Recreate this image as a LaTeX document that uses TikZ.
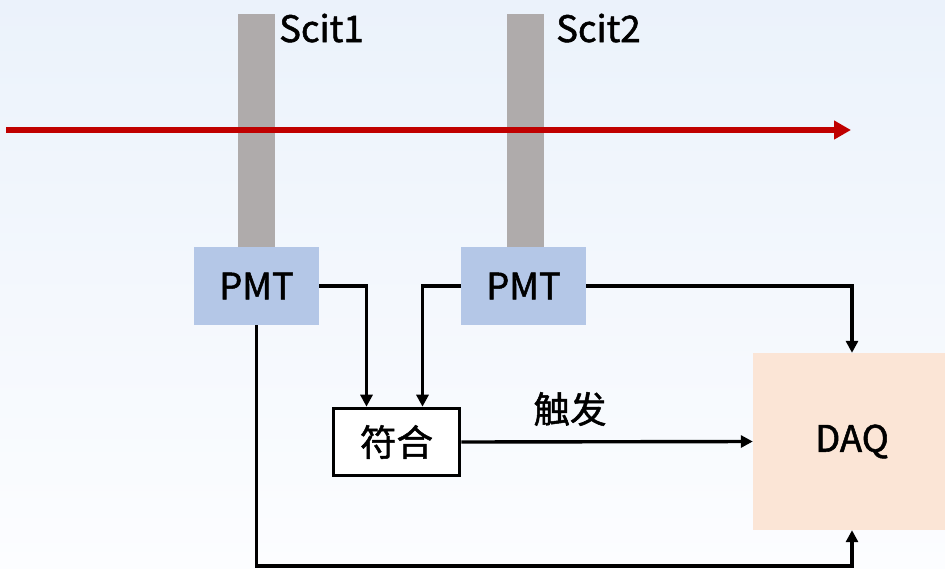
\documentclass[tikz,border=0pt]{standalone}
\usepackage{fontspec}
\setmainfont{Noto Sans CJK SC}[FakeBold=1.4]
\usetikzlibrary{arrows.meta}
\definecolor{bgtop}{HTML}{EBF2FB}
\definecolor{bgbot}{HTML}{FCFDFF}
\definecolor{scitgray}{HTML}{AFABAB}
\definecolor{pmtblue}{HTML}{B4C7E7}
\definecolor{daqpeach}{HTML}{FBE5D6}
\definecolor{beamred}{HTML}{C00000}
\tikzset{
  txt/.style={font=\fontsize{36.5}{42}\selectfont, text=black},
  scit/.style={fill=scitgray, draw=none, minimum width=37pt, minimum height=233pt, inner sep=0pt},
  pmt/.style={txt, fill=pmtblue, draw=none, minimum width=125pt, minimum height=78pt, inner sep=0pt},
  coinc/.style={txt, fill=white, draw=black, line width=3.6pt, minimum width=126pt, minimum height=67pt, inner sep=0pt},
  daq/.style={txt, fill=daqpeach, draw=none, minimum width=198pt, minimum height=177pt, inner sep=0pt},
  label/.style={txt, inner sep=0pt},
  wire/.style={draw=black, line width=3.4pt, -{Triangle[length=12pt,width=12pt]}},
  beam/.style={draw=beamred, line width=6.5pt, -{Triangle[length=17pt,width=18pt]}},
}
\begin{document}
\begin{tikzpicture}[x=1pt,y=-1pt]
  % canvas with soft vertical gradient
  \useasboundingbox (0,0) rectangle (945,568);
  \shade[top color=bgtop, bottom color=bgbot] (0,0) rectangle (945,568);

  % scintillator bars
  \node[scit] (s1) at (256.5,130.5) {};
  \node[scit] (s2) at (525.5,130.5) {};
  \node[label, anchor=base west] (l1) at (279,42) {Scit1};
  \node[label, anchor=base west] (l2) at (556,42) {Scit2};

  % particle track
  \coordinate (bs) at (6,130);
  \coordinate (be) at (851,130);
  \draw[beam] (bs) -- (be);

  % photomultipliers, coincidence unit, DAQ
  \node[pmt] (p1) at (256.5,286) {PMT};
  \node[pmt] (p2) at (523.5,286) {PMT};
  \node[coinc] (c) at (396.5,442) {符合};
  \node[daq] (d) at (852,441.5) {DAQ};

  % signal lines
  \draw[wire] (p1.east) -| ([xshift=-30pt]c.north);
  \draw[wire] (p2.west) -| ([xshift=26pt]c.north);
  \draw[wire] (p2.east) -| (d.north);
  \coordinate (bl) at (256.5,566);
  \draw[wire] (p1.south) -- (bl) -| (d.south);
  \draw[wire] (c.east) -- (d.west);
  \node[label] (trig) at (570,409) {触发};
\end{tikzpicture}
\end{document}
